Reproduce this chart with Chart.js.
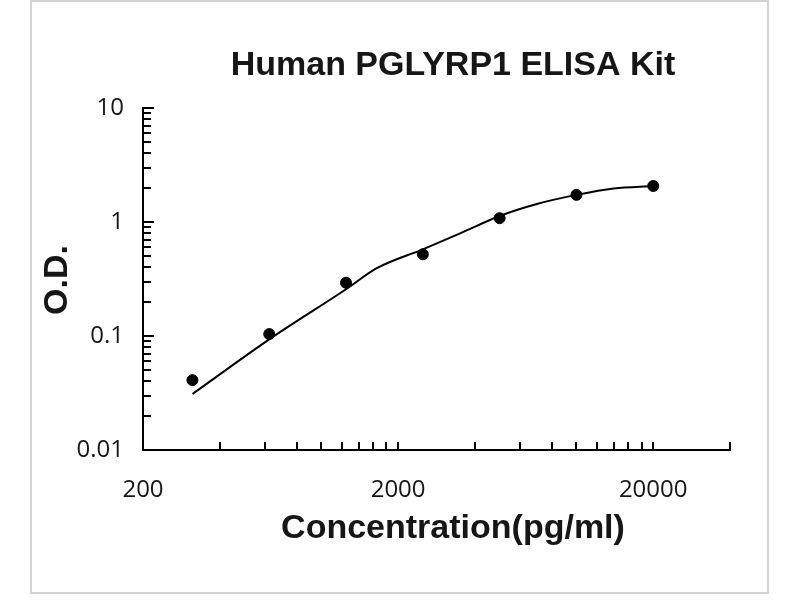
<!DOCTYPE html>
<html>
<head>
<meta charset="utf-8">
<script src="https://cdn.jsdelivr.net/npm/chart.js@4.4.1/dist/chart.umd.min.js"></script>
<style>
  html, body { margin: 0; padding: 0; background: #fff; }
  #wrap { width: 800px; height: 600px; }
</style>
</head>
<body>
<div id="wrap"><canvas id="elisa" width="800" height="600"></canvas></div>
<script>
// standard points (concentration pg/ml, O.D.)
var conc = [312.5, 625, 1250, 2500, 5000, 10000, 20000];
var od = [0.041, 0.104, 0.293, 0.521, 1.08, 1.73, 2.07];

// fitted curve
var fitConc = [312.5, 625, 1250, 1650, 2500, 3500, 5000, 7000, 10000, 14000, 20000];
var fitOd = [0.031, 0.0935, 0.257, 0.393, 0.576, 0.795, 1.13, 1.44, 1.73, 1.97, 2.07];

var xLabels = [200, 2000, 20000];
var yLabels = [0.01, 0.1, 1, 10];

var chartTitle = "Human PGLYRP1 ELISA Kit";
var xTitle = "Concentration(pg/ml)";
var yTitle = "O.D.";

var ink = "#161616";
var boldFont = "Liberation Sans, Arial, sans-serif";

function pairs(xs, ys) {
  return xs.map(function (x, i) { return { x: x, y: ys[i] }; });
}

// light frame around the picture
var framePlugin = {
  id: "frame",
  beforeDraw: function (chart) {
    var ctx = chart.ctx;
    ctx.save();
    ctx.fillStyle = "#fff";
    ctx.fillRect(0, 0, chart.width, chart.height);
    ctx.strokeStyle = "#d4d4d4";
    ctx.lineWidth = 2;
    ctx.strokeRect(31, 1, 737, 592);
    ctx.restore();
  }
};

// titles sit a bit right of the plot centre, like the original
var titlePlugin = {
  id: "titles",
  afterDraw: function (chart) {
    var ctx = chart.ctx;
    ctx.save();
    ctx.fillStyle = ink;
    ctx.textAlign = "center";
    ctx.textBaseline = "middle";
    ctx.font = "bold 34px " + boldFont;
    ctx.fillText(chartTitle, 453, 66);
    ctx.font = "bold 34px " + boldFont;
    ctx.fillText(xTitle, 453, 529);
    ctx.translate(58, 280);
    ctx.rotate(-Math.PI / 2);
    ctx.font = "bold 34px " + boldFont;
    ctx.fillText(yTitle, 0, 0);
    ctx.restore();
  }
};

// inward tick marks on both log axes
var tickPlugin = {
  id: "inTicks",
  afterDatasetsDraw: function (chart) {
    var ctx = chart.ctx;
    var xs = chart.scales.x, ys = chart.scales.y;
    ctx.save();
    ctx.strokeStyle = "#000";
    ctx.lineWidth = 2;
    ctx.beginPath();
    var xt = [];
    [200, 2000].forEach(function (b) {
      for (var k = 2; k <= 10; k++) xt.push(b * k);
    });
    xt.push(40000);
    xt.forEach(function (v) {
      var px = Math.round(xs.getPixelForValue(v));
      ctx.moveTo(px, xs.top);
      ctx.lineTo(px, xs.top - 8);
    });
    [0.01, 0.1, 1].forEach(function (b) {
      for (var k = 1; k <= 9; k++) {
        var py = Math.round(ys.getPixelForValue(b * k));
        ctx.moveTo(ys.right, py);
        ctx.lineTo(ys.right + (k === 1 ? 11 : 8), py);
      }
    });
    var top = Math.round(ys.getPixelForValue(10));
    ctx.moveTo(ys.right, top);
    ctx.lineTo(ys.right + 11, top);
    ctx.stroke();
    ctx.restore();
  }
};

new Chart("elisa", {
  type: "scatter",
  data: {
    datasets: [
      {
        type: "line",
        data: pairs(fitConc, fitOd),
        borderColor: "#000",
        borderWidth: 2,
        pointRadius: 0,
        cubicInterpolationMode: "monotone",
        fill: false
      },
      {
        data: pairs(conc, od),
        backgroundColor: "#000",
        borderColor: "#000",
        pointRadius: 5.5,
        pointHoverRadius: 5.5
      }
    ]
  },
  options: {
    responsive: false,
    animation: false,
    layout: { padding: { left: 30, right: 70, top: 108, bottom: 50 } },
    plugins: {
      legend: { display: false },
      tooltip: { enabled: false },
      title: { display: false }
    },
    scales: {
      x: {
        type: "logarithmic",
        min: 200,
        max: 40000,
        grid: { display: false, drawTicks: false },
        border: { color: "#000", width: 2 },
        afterBuildTicks: function (s) {
          s.ticks = xLabels.map(function (v) { return { value: v }; });
        },
        afterFit: function (s) { s.height = 100; },
        ticks: {
          padding: 26,
          maxRotation: 0,
          color: ink,
          font: { family: "Open Sans, sans-serif", size: 24 },
          callback: function (v) { return String(v); }
        }
      },
      y: {
        type: "logarithmic",
        min: 0.01,
        max: 10,
        grid: { display: false, drawTicks: false },
        border: { color: "#000", width: 2 },
        afterBuildTicks: function (s) {
          s.ticks = yLabels.map(function (v) { return { value: v }; });
        },
        afterFit: function (s) { s.width = 113; },
        ticks: {
          padding: 19,
          color: ink,
          font: { family: "Open Sans, sans-serif", size: 24 },
          callback: function (v) { return String(v); }
        }
      }
    }
  },
  plugins: [framePlugin, titlePlugin, tickPlugin]
});
</script>
</body>
</html>
